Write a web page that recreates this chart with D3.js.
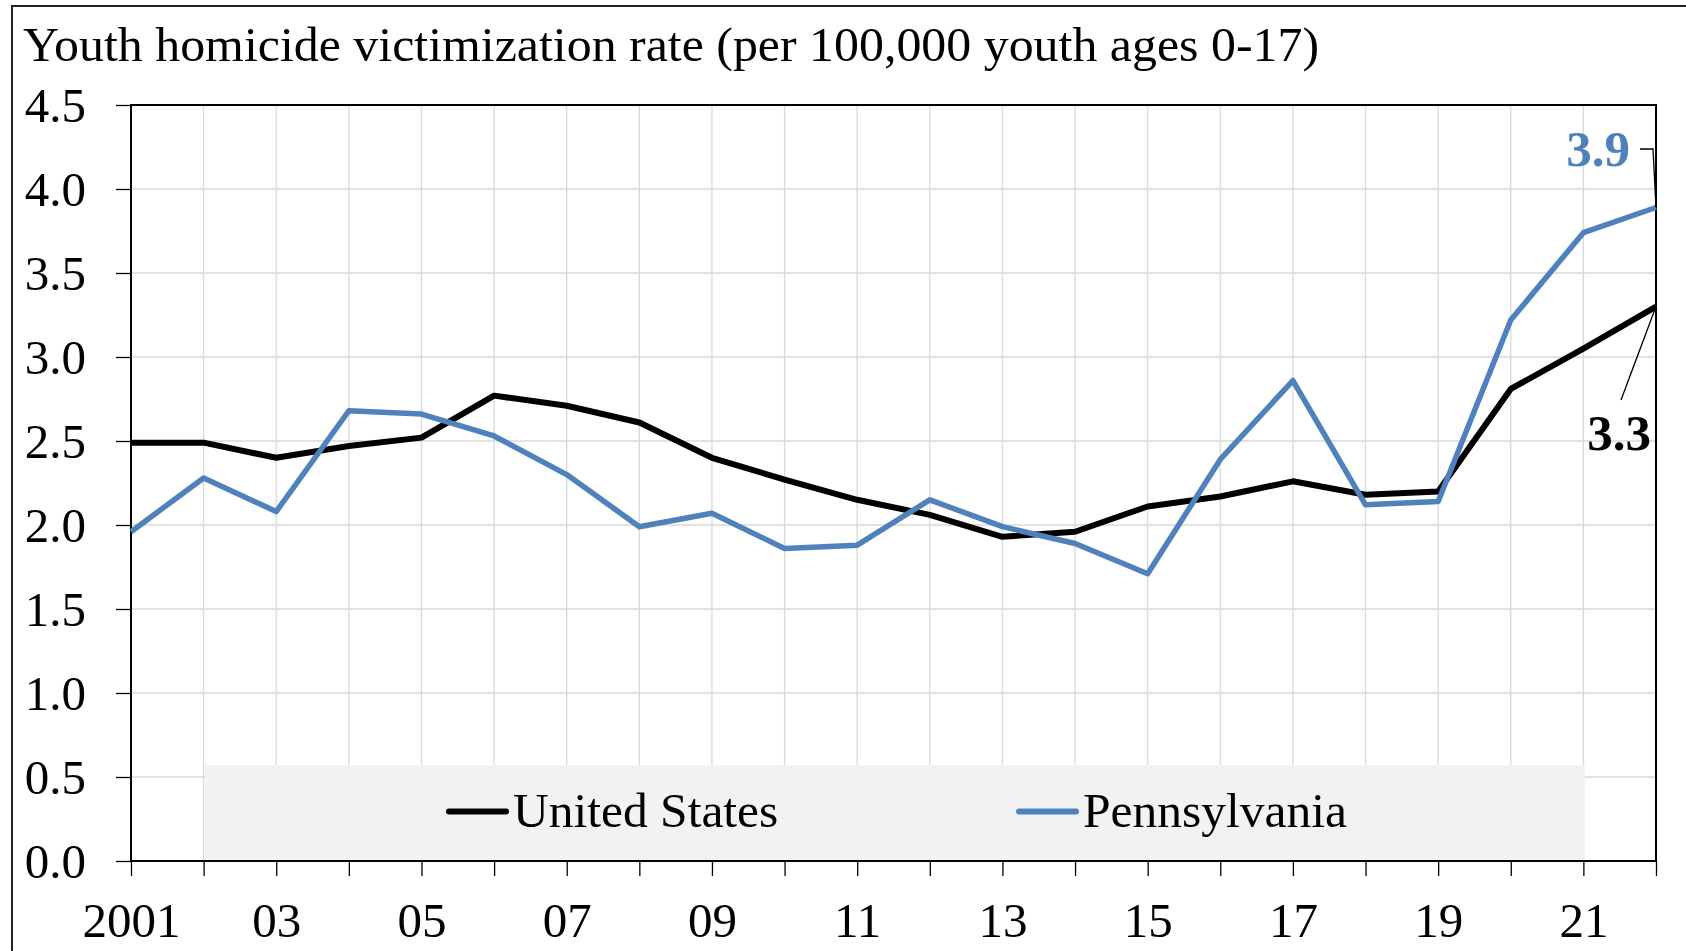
<!DOCTYPE html>
<html>
<head>
<meta charset="utf-8">
<script src="https://cdn.jsdelivr.net/npm/d3@7"></script>
<style>
  html, body { margin: 0; padding: 0; background: #fff; }
  svg { display: block; }
  text { font-family: "Liberation Serif", "DejaVu Serif", serif; fill: #000; }
</style>
</head>
<body>
<svg id="chart" width="1686" height="951"></svg>
<script>
const years = d3.range(2001, 2023);
const usValues = [2.49, 2.49, 2.40, 2.47, 2.52, 2.77, 2.71, 2.61, 2.40, 2.27, 2.15, 2.06, 1.93, 1.96, 2.11, 2.17, 2.26, 2.18, 2.20, 2.81, 3.05, 3.30];
const paValues = [1.96, 2.28, 2.08, 2.68, 2.66, 2.53, 2.30, 1.99, 2.07, 1.86, 1.88, 2.15, 1.99, 1.89, 1.71, 2.39, 2.86, 2.12, 2.14, 3.22, 3.74, 3.89];
const yTicks = [0, 0.5, 1.0, 1.5, 2.0, 2.5, 3.0, 3.5, 4.0, 4.5];
const xTickLabels = ["2001", "03", "05", "07", "09", "11", "13", "15", "17", "19", "21"];
const seriesNames = ["United States", "Pennsylvania"];
const titleText = "Youth homicide victimization rate (per 100,000 youth ages 0-17)";

const colors = { us: "#000000", pa: "#4f81bd" };
const svg = d3.select("#chart");

const pLeft = 131, pRight = 1656, pTop = 105, pBottom = 861;
const x = d3.scaleLinear().domain([2001, 2022]).range([pLeft, pRight]);
const y = d3.scaleLinear().domain([0, 4.5]).range([pBottom, pTop]);

// outer frame
svg.append("rect").attr("x", 12).attr("y", 6).attr("width", 2000).attr("height", 2000)
  .attr("fill", "none").attr("stroke", "#222").attr("stroke-width", 2);

// title
svg.append("text").attr("x", 23).attr("y", 61)
  .attr("font-size", 48)
  .attr("textLength", 1296).attr("lengthAdjust", "spacingAndGlyphs")
  .text(titleText);

// gridlines
const grid = svg.append("g");
grid.selectAll("line.h").data(yTicks.slice(1)).join("line")
  .attr("x1", pLeft).attr("x2", pRight)
  .attr("y1", d => y(d)).attr("y2", d => y(d))
  .attr("stroke", "#d9d9d9").attr("stroke-width", 1.3);
grid.selectAll("line.v").data(years.slice(1)).join("line")
  .attr("x1", d => x(d)).attr("x2", d => x(d))
  .attr("y1", pTop).attr("y2", pBottom)
  .attr("stroke", "#d9d9d9").attr("stroke-width", 1.3);

// legend background (drawn over gridlines)
svg.append("rect")
  .attr("x", x(2002) + 1.5).attr("y", 765)
  .attr("width", x(2021) - x(2002)).attr("height", pBottom - 765)
  .attr("fill", "#f2f2f2");

// y axis
const yAxis = d3.axisLeft(y).tickValues(yTicks).tickFormat(d3.format(".1f"))
  .tickSize(15).tickPadding(30);
const gy = svg.append("g").attr("transform", `translate(${pLeft},0)`).call(yAxis);
gy.select(".domain").remove();
gy.selectAll(".tick line").attr("stroke", "#000").attr("stroke-width", 1.3);
gy.selectAll(".tick text").attr("font-size", 49).attr("font-family", "Liberation Serif")
  .attr("fill", "#000").attr("dy", "0.34em");

// x axis
const xAxis = d3.axisBottom(x).tickValues(years)
  .tickFormat(d => { const i = (d - 2001) / 2; return Number.isInteger(i) ? xTickLabels[i] : ""; })
  .tickSize(15).tickPadding(0);
const gx = svg.append("g").attr("transform", `translate(0,${pBottom})`).call(xAxis);
gx.select(".domain").remove();
gx.selectAll(".tick line").attr("stroke", "#000").attr("stroke-width", 1.3);
gx.selectAll(".tick text").attr("font-size", 49).attr("font-family", "Liberation Serif")
  .attr("fill", "#000").attr("y", 76).attr("dy", 0);

// plot border
svg.append("rect").attr("x", pLeft).attr("y", pTop)
  .attr("width", pRight - pLeft).attr("height", pBottom - pTop)
  .attr("fill", "none").attr("stroke", "#000").attr("stroke-width", 2);

// lines
const line = d3.line().x((d, i) => x(years[i])).y(d => y(d));
svg.append("path").datum(usValues).attr("d", line)
  .attr("fill", "none").attr("stroke", colors.us).attr("stroke-width", 6)
  .attr("stroke-linejoin", "round");
svg.append("path").datum(paValues).attr("d", line)
  .attr("fill", "none").attr("stroke", colors.pa).attr("stroke-width", 5.5)
  .attr("stroke-linejoin", "round");

// data labels with leader lines
const last = years.length - 1;
const fmt = d3.format(".1f");
const px = x(years[last]);
svg.append("polyline")
  .attr("points", `1640,149 1653,149 ${px},${y(paValues[last])}`)
  .attr("fill", "none").attr("stroke", "#000").attr("stroke-width", 1.3);
svg.append("text").attr("x", 1630).attr("y", 166).attr("text-anchor", "end")
  .attr("font-size", 51).attr("font-weight", "bold").style("fill", colors.pa)
  .text(fmt(paValues[last]));
svg.append("line")
  .attr("x1", 1621).attr("y1", 400).attr("x2", px).attr("y2", y(usValues[last]))
  .attr("stroke", "#000").attr("stroke-width", 1.3);
svg.append("text").attr("x", 1651).attr("y", 450).attr("text-anchor", "end")
  .attr("font-size", 51).attr("font-weight", "bold").style("fill", "#000")
  .text(fmt(usValues[last]));

// legend
const legendItems = [
  { name: seriesNames[0], color: colors.us, x1: 449, x2: 506, tx: 513 },
  { name: seriesNames[1], color: colors.pa, x1: 1019, x2: 1076, tx: 1083 }
];
const lg = svg.append("g");
legendItems.forEach(it => {
  lg.append("line").attr("x1", it.x1).attr("x2", it.x2).attr("y1", 811.5).attr("y2", 811.5)
    .attr("stroke", it.color).attr("stroke-width", 6).attr("stroke-linecap", "round");
  lg.append("text").attr("x", it.tx).attr("y", 827).attr("font-size", 49.5).text(it.name);
});
</script>
</body>
</html>
